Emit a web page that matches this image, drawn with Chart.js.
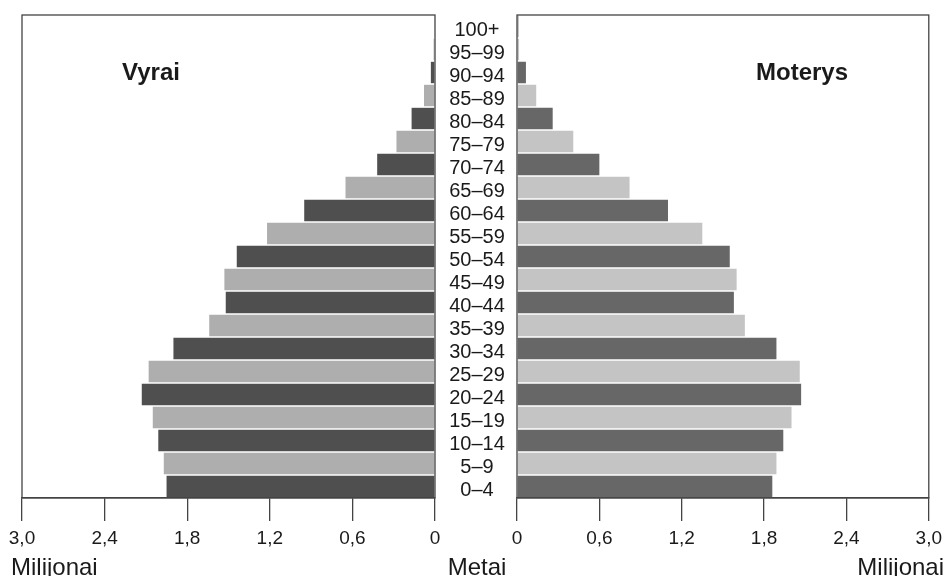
<!DOCTYPE html>
<html>
<head>
<meta charset="utf-8">
<script src="https://cdn.jsdelivr.net/npm/chart.js@4/dist/chart.umd.min.js"></script>
<style>
  html, body { margin: 0; padding: 0; background: #fff; }
  #wrap { position: relative; width: 948px; height: 576px; }
  #wrap canvas { position: absolute; left: 0; top: 0; }
</style>
</head>
<body>
<div id="wrap">
  <canvas id="menChart" width="948" height="576"></canvas>
  <canvas id="womenChart" width="948" height="576"></canvas>
</div>
<script>
// --- Data (top row first) ---
const ageGroups = ['100+', '95–99', '90–94', '85–89', '80–84', '75–79', '70–74', '65–69', '60–64',
  '55–59', '50–54', '45–49', '40–44', '35–39', '30–34', '25–29', '20–24', '15–19', '10–14', '5–9', '0–4'];
const menValues = [0.005, 0.01, 0.03, 0.08, 0.17, 0.28, 0.42, 0.65, 0.95,
  1.22, 1.44, 1.53, 1.52, 1.64, 1.90, 2.08, 2.13, 2.05, 2.01, 1.97, 1.95];
const womenValues = [0.01, 0.015, 0.065, 0.14, 0.26, 0.41, 0.60, 0.82, 1.10,
  1.35, 1.55, 1.60, 1.58, 1.66, 1.89, 2.06, 2.07, 2.00, 1.94, 1.89, 1.86];
const xTicks = [0, 0.6, 1.2, 1.8, 2.4, 3.0];

const FONT = '"Liberation Sans", Arial, sans-serif';
const TEXT = '#1a1a1a';

// alternating shades, bottom row (0–4) is dark
function shades(dark, light) {
  return ageGroups.map((_, i) => ((ageGroups.length - 1 - i) % 2 === 0 ? dark : light));
}

function fmtTick(v) {
  return v === 0 ? '0' : v.toFixed(1).replace('.', ',');
}

// frame around the plot area
const framePlugin = {
  id: 'frame',
  afterDatasetsDraw(chart) {
    const { ctx, chartArea: a } = chart;
    ctx.save();
    ctx.strokeStyle = '#444';
    ctx.lineWidth = 1.3;
    ctx.strokeRect(a.left, a.top, a.right - a.left, a.bottom - a.top);
    ctx.restore();
  }
};

// extra texts: age labels, panel names, axis names
function textPlugin(side) {
  return {
    id: 'texts_' + side,
    afterDraw(chart) {
      const ctx = chart.ctx;
      ctx.save();
      ctx.fillStyle = TEXT;
      if (side === 'left') {
        const yScale = chart.scales.y;
        ctx.font = '20px ' + FONT;
        ctx.textAlign = 'center';
        ctx.textBaseline = 'middle';
        ageGroups.forEach((lbl, i) => {
          ctx.fillText(lbl, 477, yScale.getPixelForValue(i) + 3.5);
        });
        ctx.font = 'bold 24px ' + FONT;
        ctx.textBaseline = 'alphabetic';
        ctx.fillText('Vyrai', 151, 80);
        ctx.font = '24px ' + FONT;
        ctx.textAlign = 'left';
        ctx.fillText('Milijonai', 11, 575);
        ctx.textAlign = 'center';
        ctx.fillText('Metai', 477, 575);
      } else {
        ctx.font = 'bold 24px ' + FONT;
        ctx.textAlign = 'center';
        ctx.textBaseline = 'alphabetic';
        ctx.fillText('Moterys', 802, 80);
        ctx.font = '24px ' + FONT;
        ctx.textAlign = 'right';
        ctx.fillText('Milijonai', 944, 575);
      }
      ctx.restore();
    }
  };
}

function makeChart(id, values, colors, reverse, padLeft, padRight, side) {
  return new Chart(document.getElementById(id), {
    type: 'bar',
    data: {
      labels: ageGroups,
      datasets: [{
        data: values,
        backgroundColor: colors,
        borderWidth: 0,
        barPercentage: 0.93,
        categoryPercentage: 1
      }]
    },
    options: {
      indexAxis: 'y',
      responsive: false,
      animation: false,
      layout: { padding: { left: padLeft, right: padRight, top: 15, bottom: 0 } },
      plugins: { legend: { display: false }, tooltip: { enabled: false } },
      scales: {
        x: {
          min: 0,
          max: 3,
          reverse: reverse,
          afterBuildTicks: (s) => { s.ticks = xTicks.map(v => ({ value: v })); },
          afterFit: (s) => { s.height = 78; },
          grid: { display: true, drawOnChartArea: false, drawTicks: true, tickLength: 23, color: '#444', lineWidth: 1.3 },
          border: { display: true, color: '#444', width: 1.3 },
          ticks: {
            padding: 6,
            color: TEXT,
            font: { family: FONT, size: 19 },
            maxRotation: 0,
            autoSkip: false,
            callback: (v) => fmtTick(v)
          }
        },
        y: { display: false }
      }
    },
    plugins: [framePlugin, textPlugin(side)]
  });
}

makeChart('menChart', menValues, shades('#4f4f4f', '#aeaeae'), true, 22, 948 - 435, 'left');
makeChart('womenChart', womenValues, shades('#676767', '#c4c4c4'), false, 517, 948 - 929, 'right');
</script>
</body>
</html>
